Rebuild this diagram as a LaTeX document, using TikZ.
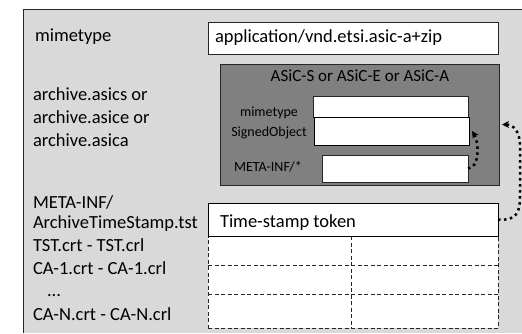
\documentclass[tikz,border=0pt]{standalone}
\usepackage{fontspec}
\setmainfont{Carlito}
\usetikzlibrary{arrows.meta}
\definecolor{panelgray}{RGB}{217,217,217}
\definecolor{boxgray}{RGB}{128,128,128}
\definecolor{edge}{RGB}{38,38,38}

\begin{document}
\begin{tikzpicture}[x=1pt,y=-1pt,
  every node/.style={inner sep=0pt, outer sep=0pt},
  lbl/.style={anchor=base west, font=\fontsize{18.5}{22}\selectfont, text=black},
  small/.style={anchor=base, font=\fontsize{14}{16}\selectfont, text=black},
  whitebox/.style={draw=edge, fill=white, line width=0.8pt, rectangle},
  dotarrow/.style={draw=black, line width=2.5pt, dash pattern=on 2.5pt off 3.5pt,
    -{Stealth[length=7pt,width=7pt]}},
  gridline/.style={draw=edge, line width=0.9pt, dash pattern=on 4pt off 2.5pt}
]
\useasboundingbox (0,0) rectangle (522,333);
\fill[white] (0,0) rectangle (522,333);

% container panel (open to the right and bottom)
\fill[panelgray] (23,9) rectangle (522,333);
\draw[edge, line width=1pt] (23,333) -- (23,9) -- (522,9);

% mimetype entry
\node[lbl] (mtkey) at (35,41) {mimetype};
\node[whitebox, minimum width=290pt, minimum height=32pt] (mt) at (353,38) {};
\node[lbl] (mtval) at (215,42) {application/vnd.etsi.asic-a+zip};

% archived container
\node[lbl] (arc1) at (33,100) {archive.asics or};
\node[lbl] (arc2) at (33,123) {archive.asice or};
\node[lbl] (arc3) at (33,146) {archive.asica};

\node[draw=edge, fill=boxgray, line width=1pt, minimum width=279pt, minimum height=121pt] (asic) at (359.5,124.5) {};
\node[anchor=base, font=\fontsize{17}{20}\selectfont, text=black] (title) at (360,81) {ASiC-S or ASiC-E or ASiC-A};

\node[whitebox, minimum width=155pt, minimum height=21pt] (imt) at (390.5,106.5) {};
\node[whitebox, draw=black, minimum width=155pt, minimum height=28pt] (so) at (391.5,131) {};
\node[whitebox, minimum width=146pt, minimum height=27pt] (meta) at (395,168.5) {};

\node[small] (imtlbl) at (269,116) {mimetype};
\node[small] (solbl) at (269,136) {SignedObject};
\node[small] (metalbl) at (268,171.5) {META-INF/*};

% archive time-stamp and validation data
\node[lbl] (mi) at (33,208) {META-INF/};
\node[lbl] (ats) at (33,228) {ArchiveTimeStamp.tst};
\node[lbl] (tst) at (33,251) {TST.crt - TST.crl};
\node[lbl] (ca1) at (33,274) {CA-1.crt - CA-1.crl};
\node[lbl] (dots) at (47,296.5) {...};
\node[lbl] (can) at (33,320) {CA-N.crt - CA-N.crl};

\node[gridline, fill=white, minimum width=290pt, minimum height=92pt] (grid) at (353,282) {};
\draw[gridline] (208,265) -- (498,265);
\draw[gridline] (208,294) -- (498,294);
\draw[gridline] (351,236) -- (351,328);

\node[whitebox, draw=black, minimum width=290pt, minimum height=33pt] (ts) at (353,219.5) {};
\node[lbl] (tslbl) at (220,227) {Time-stamp token};

% references
\coordinate (soR) at ([xshift=3pt]so.east);
\coordinate (asicR) at ([xshift=3pt]asic.east);
\draw[dotarrow] (meta.east) .. controls (480,168) and (479,142) .. (soR);
\draw[dotarrow] (ts.east) .. controls (517,221) and (520,212) .. (520,196)
  -- (520,146) .. controls (520,131) and (513,124.5) .. (asicR);
\end{tikzpicture}
\end{document}
